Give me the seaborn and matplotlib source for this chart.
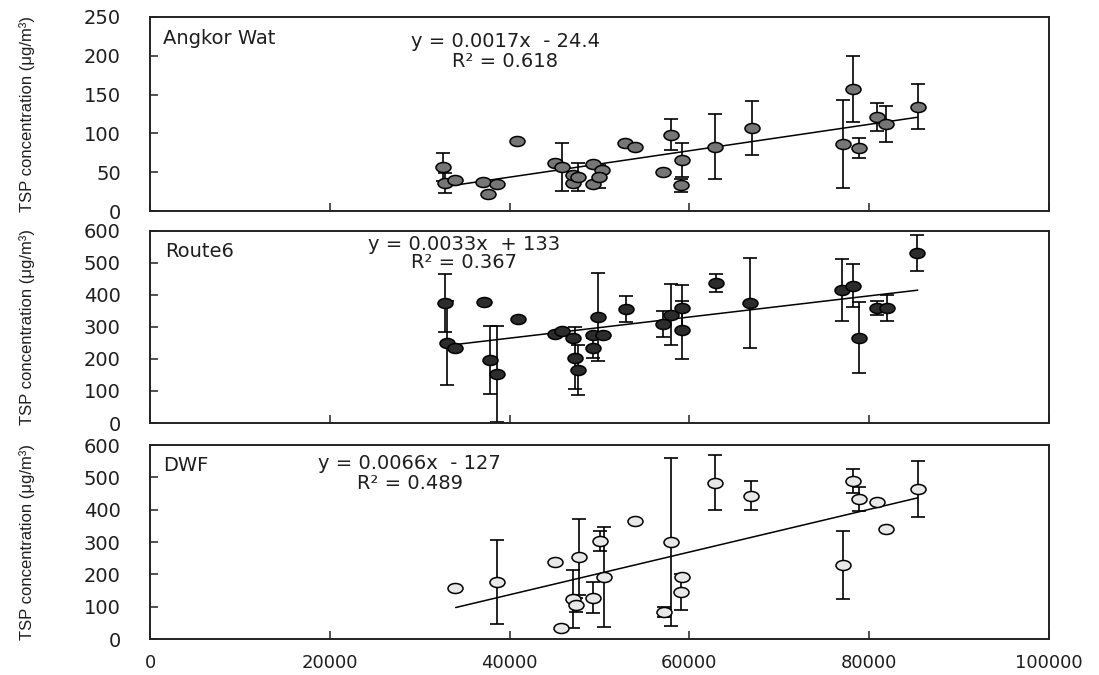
import numpy as np
import pandas as pd
import matplotlib
matplotlib.use("Agg")
import matplotlib.pyplot as plt
from matplotlib.path import Path
from matplotlib.transforms import Affine2D
import seaborn as sns

# ---------------- data ----------------
sites = ["Angkor Wat", "Route6", "DWF"]

aw_x = [32600, 32800, 33900, 37000, 37600, 38600, 40800, 45000, 45800, 47000,
        47100, 47600, 49300, 49300, 50300, 49900, 52800, 53900, 57100, 58000,
        59200, 59100, 62800, 67000, 77100, 78200, 78900, 80900, 81900, 85400]
aw_y = [57, 36, 40, 37, 22, 35, 90, 62, 57, 36,
        46, 44, 60, 35, 53, 44, 87, 83, 50, 98,
        66, 33, 83, 107, 86, 157, 81, 121, 112, 134]
aw_err = [18, 13, 0, 0, 0, 0, 0, 0, 31, 0,
          0, 18, 0, 0, 0, 15, 0, 0, 0, 20,
          22, 8, 42, 35, 57, 43, 13, 18, 23, 29]

r6_x = [32800, 33000, 33900, 37200, 37800, 38600, 40900, 45000, 45800, 47100,
        47300, 47600, 49300, 49300, 49800, 50400, 52900, 57100, 57900, 59200,
        59200, 63000, 66700, 77000, 78200, 78900, 80900, 82000, 85300]
r6_y = [375, 250, 234, 378, 197, 153, 325, 278, 288, 266,
        203, 166, 275, 234, 331, 275, 356, 309, 338, 359,
        291, 438, 375, 415, 428, 266, 359, 359, 531]
r6_err = [90, 131, 0, 0, 107, 150, 0, 0, 0, 0,
          98, 78, 0, 30, 136, 0, 40, 40, 95, 72,
          91, 28, 141, 96, 67, 111, 22, 40, 57]

dwf_x = [33900, 38600, 45000, 45700, 47100, 47400, 47700, 49300, 50000, 50500,
         53900, 57200, 57900, 59200, 59100, 62800, 66900, 77100, 78200, 78900,
         80900, 81900, 85400]
dwf_y = [158, 176, 238, 34, 124, 105, 254, 127, 303, 192,
         365, 84, 300, 192, 146, 483, 443, 229, 489, 433,
         424, 341, 464]
dwf_err = [0, 130, 0, 0, 90, 21, 117, 48, 31, 155,
           0, 16, 260, 0, 55, 85, 45, 106, 38, 37,
           0, 0, 88]

slopes = [0.0017, 0.0033, 0.0066]
intercepts = [-24.4, 133, -127]
r2_values = [0.618, 0.367, 0.489]
fit_x_min = [33500, 34000, 34000]
fit_x_max = [85400, 85400, 85400]
equations = ["y = 0.0017x  - 24.4", "y = 0.0033x  + 133", "y = 0.0066x  - 127"]
r2_labels = ["R² = 0.618", "R² = 0.367", "R² = 0.489"]

y_limits = [(0, 250), (0, 600), (0, 600)]
y_ticks = [[0, 50, 100, 150, 200, 250],
           [0, 100, 200, 300, 400, 500, 600],
           [0, 100, 200, 300, 400, 500, 600]]
x_ticks = [0, 20000, 40000, 60000, 80000, 100000]
y_label = "TSP concentration (μg/m³)"

fill_colors = ["#767676", "#2c2c2c", "#e8e8e8"]

# ---------------- style ----------------
sns.set_theme(style="white")
plt.rcParams["font.family"] = ["DejaVu Sans"]
text_color = "#1e1e1e"

fig = plt.figure(figsize=(10.99, 6.75), dpi=100)
left, width = 0.1365, 0.818
boxes = [(0.6874, 0.2876), (0.3733, 0.2847), (0.0533, 0.2874)]

label_pos = [(0.0145, 0.887), (0.0167, 0.890), (0.0145, 0.897)]
eq_pos = [(0.395, 0.871, 0.768), (0.349, 0.927, 0.833), (0.289, 0.907, 0.804)]

ellipse = Affine2D().scale(1.5, 1.0).transform_path(Path.unit_circle())

datasets = [(aw_x, aw_y, aw_err), (r6_x, r6_y, r6_err), (dwf_x, dwf_y, dwf_err)]

for i, (bottom, height) in enumerate(boxes):
    ax = fig.add_axes([left, bottom, width, height])
    xs, ys, es = datasets[i]
    df = pd.DataFrame({"x": xs, "y": ys, "err": es})

    eb = df[df["err"] > 0]
    ax.errorbar(eb["x"], eb["y"], yerr=eb["err"], fmt="none", ecolor="black",
                elinewidth=1.2, capsize=4.7, capthick=1.2, zorder=2)

    fit = pd.DataFrame({"x": [fit_x_min[i], fit_x_max[i]]})
    fit["y"] = slopes[i] * fit["x"] + intercepts[i]
    sns.lineplot(data=fit, x="x", y="y", color="black", linewidth=1.1,
                 ax=ax, zorder=2.5)

    sns.scatterplot(data=df, x="x", y="y", marker=ellipse, s=117,
                    color=fill_colors[i], edgecolor="black", linewidth=1.1,
                    ax=ax, zorder=3, legend=False)

    ax.set_xlim(0, 100000)
    ax.set_ylim(*y_limits[i])
    ax.set_yticks(y_ticks[i])
    ax.set_xticks(x_ticks)
    ax.tick_params(axis="both", direction="in", length=6, width=1.1,
                   color="#222222", labelsize=14, labelcolor=text_color,
                   bottom=True, left=True, top=False, right=False)
    ax.tick_params(axis="y", pad=21)
    ax.tick_params(axis="x", pad=11, labelsize=13)
    if i < 2:
        ax.tick_params(axis="x", labelbottom=False)
    else:
        ax.set_xticklabels([str(t) for t in x_ticks])
    for sp in ax.spines.values():
        sp.set_visible(True)
        sp.set_color("#222222")
        sp.set_linewidth(1.4)

    ax.set_xlabel("")
    ax.set_ylabel(y_label, fontsize=12, family=["Liberation Sans"],
                  color=text_color)
    ax.yaxis.set_label_coords(-0.128, 0.5)

    ax.text(label_pos[i][0], label_pos[i][1], sites[i], transform=ax.transAxes,
            ha="left", va="center", fontsize=14, color=text_color)
    ex, ey1, ey2 = eq_pos[i]
    ax.text(ex, ey1, equations[i], transform=ax.transAxes, ha="center",
            va="center", fontsize=14, color=text_color)
    ax.text(ex, ey2, r2_labels[i], transform=ax.transAxes, ha="center",
            va="center", fontsize=14, color=text_color)

fig.savefig("out.png", dpi=100)
